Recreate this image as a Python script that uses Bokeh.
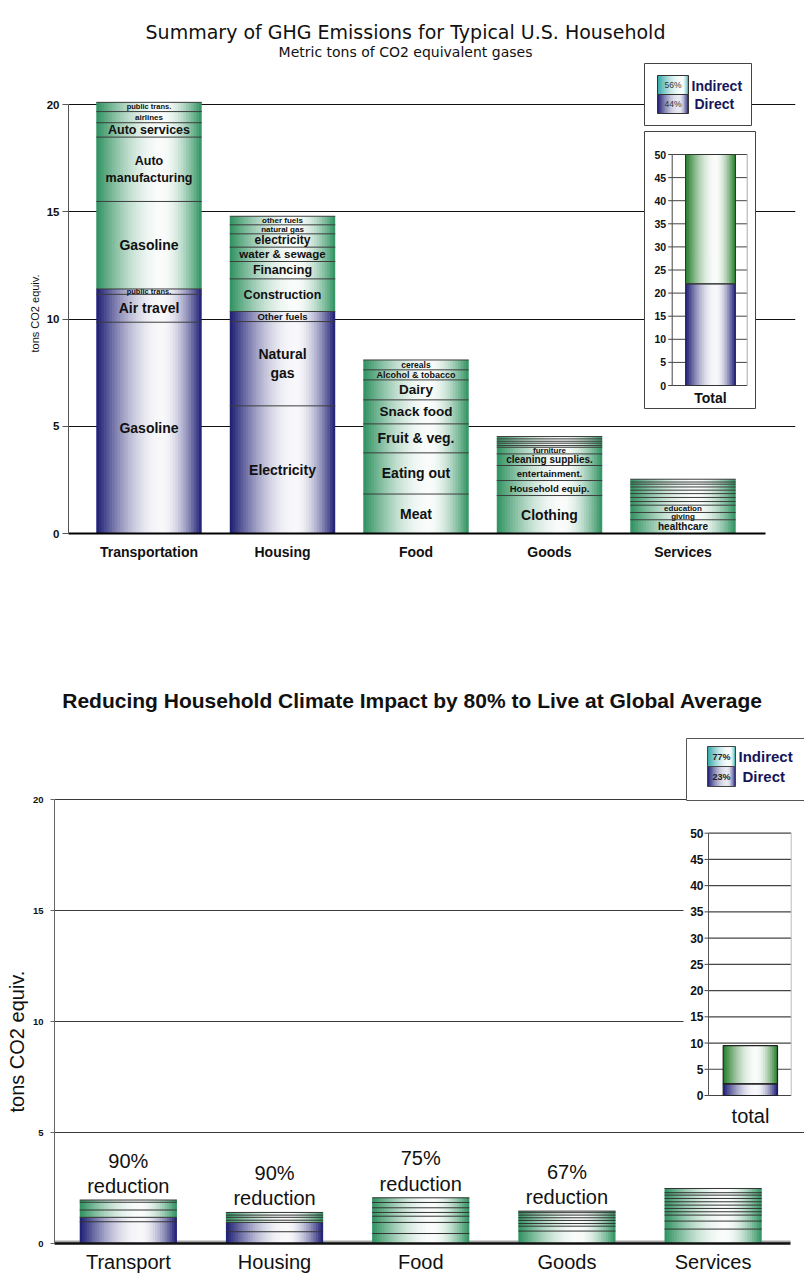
import numpy as np
from bokeh.plotting import figure
from bokeh.models import Range1d, FixedTicker, ColumnDataSource, Title
from bokeh.layouts import column
from bokeh.embed import file_html
from bokeh.resources import INLINE
from bokeh.core.properties import value

# ===================== DATA =====================
TOP_TITLE = "Summary of GHG Emissions for Typical U.S. Household"
TOP_SUBTITLE = "Metric tons of CO2 equivalent gases"
BOTTOM_TITLE = "Reducing Household Climate Impact by 80% to Live at Global Average"
Y_LABEL = "tons CO2 equiv."

CATEGORIES_TOP = ["Transportation", "Housing", "Food", "Goods", "Services"]
CATEGORIES_BOTTOM = ["Transport", "Housing", "Food", "Goods", "Services"]
MAIN_TICKS = [0, 5, 10, 15, 20]
INSET_TICKS = [0, 5, 10, 15, 20, 25, 30, 35, 40, 45, 50]

# top chart: stacked segments, bottom -> top (D = direct, I = indirect)
TRANSPORT_LABELS = ["Gasoline", "Air travel", "public trans.", "Gasoline",
                    "Auto\nmanufacturing", "Auto services", "airlines", "public trans."]
TRANSPORT_VALUES = [9.85, 1.30, 0.25, 4.08, 3.00, 0.67, 0.52, 0.43]
TRANSPORT_KINDS = ["D", "D", "D", "I", "I", "I", "I", "I"]

HOUSING_LABELS = ["Electricity", "Natural\ngas", "Other fuels", "Construction",
                  "Financing", "water & sewage", "electricity", "natural gas", "other fuels"]
HOUSING_VALUES = [5.95, 3.93, 0.47, 1.52, 0.81, 0.67, 0.62, 0.42, 0.40]
HOUSING_KINDS = ["D", "D", "D", "I", "I", "I", "I", "I", "I"]

FOOD_LABELS = ["Meat", "Eating out", "Fruit & veg.", "Snack food", "Dairy",
               "Alcohol & tobacco", "cereals"]
FOOD_VALUES = [1.84, 1.92, 1.35, 1.12, 0.93, 0.47, 0.46]
FOOD_KINDS = ["I"] * 7

GOODS_LABELS = ["Clothing", "Household equip.", "entertainment.", "cleaning supplies.",
                "furniture", "", "", "", "", ""]
GOODS_VALUES = [1.77, 0.70, 0.70, 0.54, 0.31, 0.08, 0.11, 0.09, 0.11, 0.11]
GOODS_KINDS = ["I"] * 10

SERVICES_LABELS = ["healthcare", "giving", "education", "", "", "", "", "", "", "", ""]
SERVICES_VALUES = [0.64, 0.34, 0.34, 0.17, 0.19, 0.18, 0.16, 0.15, 0.13, 0.10, 0.13]
SERVICES_KINDS = ["I"] * 11

TOTAL_TOP_VALUES = [22.0, 28.0]          # direct, indirect
LEGEND_NAMES = ["Indirect", "Direct"]
LEGEND_TOP_PCT = ["56%", "44%"]

# bottom chart (reduced household), bottom -> top
RED_TRANSPORT_VALUES = [0.98, 0.20, 0.33, 0.35, 0.10]
RED_TRANSPORT_KINDS = ["D", "D", "I", "I", "I"]
RED_HOUSING_VALUES = [0.53, 0.42, 0.10, 0.13, 0.10, 0.12]
RED_HOUSING_KINDS = ["D", "D", "I", "I", "I", "I"]
RED_FOOD_VALUES = [0.45, 0.50, 0.28, 0.17, 0.21, 0.24, 0.21]
RED_FOOD_KINDS = ["I"] * 7
RED_GOODS_VALUES = [0.56, 0.22, 0.12, 0.14, 0.12, 0.12, 0.11, 0.07]
RED_GOODS_KINDS = ["I"] * 8
RED_SERVICES_VALUES = [0.65, 0.36, 0.27, 0.15, 0.15, 0.15, 0.15, 0.15, 0.15, 0.11, 0.19]
RED_SERVICES_KINDS = ["I"] * 11
REDUCTION_PCT = ["90%", "90%", "75%", "67%", ""]

TOTAL_BOTTOM_VALUES = [2.2, 7.3]        # direct, indirect
LEGEND_BOTTOM_PCT = ["77%", "23%"]

# ===================== STYLE =====================
FONT = "Liberation Sans"
NAVY = (28, 28, 115)
GREEN = (46, 145, 95)
DARK_GREEN = (34, 122, 40)
TEAL = (48, 165, 165)
LEGEND_TEXT = "#15155a"

LABEL_SIZE = {
    "Gasoline": 14, "Air travel": 14, "public trans.": 7.5, "Auto\nmanufacturing": 12.5,
    "Auto services": 12.5, "airlines": 8, "Electricity": 14, "Natural\ngas": 14,
    "Other fuels": 9.5, "Construction": 12.5, "Financing": 12.5, "water & sewage": 11.5,
    "electricity": 12, "natural gas": 8, "other fuels": 8, "Meat": 14, "Eating out": 14,
    "Fruit & veg.": 14, "Snack food": 13.5, "Dairy": 13.5, "Alcohol & tobacco": 9,
    "cereals": 8.5, "Clothing": 14, "Household equip.": 9.5, "entertainment.": 9.5,
    "cleaning supplies.": 10, "furniture": 8, "healthcare": 10, "giving": 8,
    "education": 8, "": 8,
}

# ===================== LAYOUT HELPERS =====================
W = 804
TOP_H, BOT_H = 620, 658

T_FL, T_FR, T_FB = 68, 795, 533
T_PXY = (533 - 104) / 20.0
T_PXX = 133.5
T_X0 = 0.397
T_BAR_W = 0.79


def tx(px):
    return T_X0 + (px - T_FL) / T_PXX


def ty(py):
    return (T_FB - py) / T_PXY


TI_Y0, TI_Y50 = 385.0, 154.0
TI_PXY = (TI_Y0 - TI_Y50) / 50.0

B_OFF = 620
B_FL, B_FB = 54, 623
B_PXY = (B_FB + B_OFF - 799.3) / 20.0
B_PXX = 146.2
B_X0 = 0.495
B_BAR_W = 0.665


def bx(px):
    return B_X0 + (px - B_FL) / B_PXX


def by(gpy):
    return (B_FB + B_OFF - gpy) / B_PXY


BI_Y0, BI_Y50 = 1095.0, 832.7
BI_PXY = (BI_Y0 - BI_Y50) / 50.0


def hexmix(edge, w):
    return "#%02x%02x%02x" % tuple(int(round(c + (255 - c) * w)) for c in edge)


def new_store():
    return dict(left=[], right=[], bottom=[], top=[], color=[])


def add_gradient(store, xl, xr, y0, y1, edge, n=40, peak=0.62, wmax=0.97):
    dw = (xr - xl) / n
    for i in range(n):
        u = (i + 0.5) / n
        if u < peak:
            s = np.sin(np.pi / 2 * u / peak)
        else:
            s = np.sin(np.pi / 2 * (1 - u) / (1 - peak))
        store["left"].append(xl + i * dw)
        store["right"].append(min(xl + (i + 1.7) * dw, xr))
        store["bottom"].append(y0)
        store["top"].append(y1)
        store["color"].append(hexmix(edge, wmax * s))


def draw_store(p, store, y_range_name="default"):
    p.quad(source=ColumnDataSource(store), left="left", right="right", bottom="bottom",
           top="top", fill_color="color", line_color=None, y_range_name=y_range_name)


def stacked(p, centers, width, stacks, colors, line_color="#3c3c3c", labels=None):
    store = new_store()
    seg = dict(x0=[], x1=[], y=[])
    lab = dict(x=[], y=[], text=[], size=[])
    tops = []
    for k, (xc, (vals, kinds)) in enumerate(zip(centers, stacks)):
        cum = np.concatenate([[0.0], np.cumsum(vals)])
        tops.append(cum[-1])
        xl, xr = xc - width / 2, xc + width / 2
        for kind in ("D", "I"):
            idx = [i for i, kk in enumerate(kinds) if kk == kind]
            if idx:
                add_gradient(store, xl, xr, cum[idx[0]], cum[idx[-1] + 1], colors[kind])
        for yv in cum[1:]:
            seg["x0"].append(xl)
            seg["x1"].append(xr)
            seg["y"].append(yv)
        if labels is not None:
            for i, t in enumerate(labels[k]):
                lab["x"].append(xc)
                lab["y"].append((cum[i] + cum[i + 1]) / 2)
                lab["text"].append(t)
                lab["size"].append("%gpx" % LABEL_SIZE.get(t, 8))
    draw_store(p, store)
    p.segment(x0="x0", x1="x1", y0="y", y1="y", source=ColumnDataSource(seg),
              line_color=line_color, line_width=1)
    if labels is not None:
        p.text(x="x", y="y", text="text", source=ColumnDataSource(lab),
               text_font=value(FONT), text_font_style="bold", text_font_size="size",
               text_align="center", text_baseline="middle", text_color="#111111")
    return tops


def style_fig(p):
    p.outline_line_color = None
    p.background_fill_color = "white"
    p.border_fill_color = "white"
    p.xgrid.visible = False
    try:
        p.frame_align = False
    except Exception:
        pass


def side_title(p, text, size, frame_bottom, text_start, standoff):
    # vertical axis title on the left; the text starts (bottom end) at text_start
    t = Title(text=text, align="left", offset=frame_bottom - text_start, standoff=standoff,
              text_font=FONT, text_font_style="normal", text_font_size=size,
              text_color="#111111")
    p.add_layout(t, "left")


# ===================== TOP FIGURE =====================
top = figure(width=W, height=TOP_H, x_range=Range1d(tx(T_FL), tx(T_FR)),
             y_range=Range1d(0, ty(0)), output_backend="svg", toolbar_location=None,
             title=None, min_border_left=T_FL, min_border_right=W - T_FR,
             min_border_top=0, min_border_bottom=TOP_H - T_FB)
style_fig(top)
top.extra_y_ranges = {"inset": Range1d(-(T_FB - TI_Y0) / TI_PXY, TI_Y0 / TI_PXY)}

top.ygrid.ticker = FixedTicker(ticks=MAIN_TICKS[1:])
top.ygrid.grid_line_color = "#111111"
top.ygrid.grid_line_width = 1

ya = top.yaxis[0]
ya.ticker = FixedTicker(ticks=MAIN_TICKS)
ya.bounds = (MAIN_TICKS[0], MAIN_TICKS[-1])
ya.axis_line_color = "#555555"
ya.major_tick_line_color = "#555555"
ya.major_tick_out = 6
ya.major_tick_in = 0
ya.minor_tick_line_color = None
ya.major_label_standoff = 3
ya.major_label_text_font = FONT
ya.major_label_text_font_style = "bold"
ya.major_label_text_font_size = "11.5px"
ya.major_label_text_color = "#111111"
side_title(top, Y_LABEL, "11px", T_FB, 352, 6)

xa = top.xaxis[0]
centers_top = [i + 1 for i in range(len(CATEGORIES_TOP))]
xa.ticker = FixedTicker(ticks=centers_top)
xa.major_label_overrides = {c: n for c, n in zip(centers_top, CATEGORIES_TOP)}
xa.bounds = (tx(T_FL), tx(765))
xa.axis_line_color = "#000000"
xa.axis_line_width = 2
xa.major_tick_line_color = None
xa.minor_tick_line_color = None
xa.major_label_standoff = 4
xa.major_label_text_font = FONT
xa.major_label_text_font_style = "bold"
xa.major_label_text_font_size = "14px"
xa.major_label_text_color = "#111111"

stacks_top = [(TRANSPORT_VALUES, TRANSPORT_KINDS), (HOUSING_VALUES, HOUSING_KINDS),
              (FOOD_VALUES, FOOD_KINDS), (GOODS_VALUES, GOODS_KINDS),
              (SERVICES_VALUES, SERVICES_KINDS)]
labels_top = [TRANSPORT_LABELS, HOUSING_LABELS, FOOD_LABELS, GOODS_LABELS, SERVICES_LABELS]
stacked(top, centers_top, T_BAR_W, stacks_top, {"D": NAVY, "I": GREEN}, labels=labels_top)

# legend box (top)
top.quad(left=[tx(644)], right=[tx(751)], bottom=[ty(125)], top=[ty(63)],
         fill_color="white", line_color="#444444", line_width=1)
sw = new_store()
add_gradient(sw, tx(657), tx(688), ty(94), ty(75), TEAL, n=20, peak=0.8)
add_gradient(sw, tx(657), tx(688), ty(113), ty(94), NAVY, n=20, peak=0.7, wmax=0.9)
draw_store(top, sw)
top.quad(left=[tx(657)] * 2, right=[tx(688)] * 2, bottom=[ty(94), ty(113)], top=[ty(75), ty(94)],
         fill_color=None, line_color="#333333", line_width=1)
top.text(x=[tx(672.5)] * 2, y=[ty(84.5), ty(103.5)], text=LEGEND_TOP_PCT,
         text_font=value(FONT), text_font_size=value("8.5px"), text_align="center",
         text_baseline="middle", text_color="#333333")
top.text(x=[tx(691), tx(694)], y=[ty(85), ty(103)], text=LEGEND_NAMES,
         text_font=value(FONT), text_font_style="bold", text_font_size=value("14px"),
         text_align="left", text_baseline="middle", text_color=LEGEND_TEXT)

# inset (top)
top.quad(left=[tx(644)], right=[tx(755)], bottom=[ty(408)], top=[ty(131)],
         fill_color="white", line_color="#444444", line_width=1)
ti_axis, ti_right = 671.7, 746.7
top.segment(x0=[tx(ti_axis)] * len(INSET_TICKS), x1=[tx(ti_right)] * len(INSET_TICKS),
            y0=INSET_TICKS, y1=INSET_TICKS, line_color="#444444", line_width=1,
            y_range_name="inset")
top.segment(x0=[tx(ti_axis - 4)] * len(INSET_TICKS), x1=[tx(ti_axis)] * len(INSET_TICKS),
            y0=INSET_TICKS, y1=INSET_TICKS, line_color="#444444", line_width=1,
            y_range_name="inset")
top.segment(x0=[tx(ti_right)], x1=[tx(ti_right)], y0=[INSET_TICKS[0]], y1=[INSET_TICKS[-1]],
            line_color="#aaaaaa", line_width=1, y_range_name="inset")
top.segment(x0=[tx(ti_axis)], x1=[tx(ti_axis)], y0=[INSET_TICKS[0]], y1=[INSET_TICKS[-1]],
            line_color="#444444", line_width=1, y_range_name="inset")
top.text(x=[tx(ti_axis - 6)] * len(INSET_TICKS), y=INSET_TICKS, text=[str(t) for t in INSET_TICKS],
         text_font=value(FONT), text_font_style="bold", text_font_size=value("10.5px"),
         text_align="right", text_baseline="middle", text_color="#111111", y_range_name="inset")
ti = new_store()
ti_cum = np.concatenate([[0.0], np.cumsum(TOTAL_TOP_VALUES)])
add_gradient(ti, tx(685), tx(735), ti_cum[0], ti_cum[1], NAVY, n=30, peak=0.6)
add_gradient(ti, tx(685), tx(735), ti_cum[1], ti_cum[2], DARK_GREEN, n=30, peak=0.6)
draw_store(top, ti, "inset")
top.quad(left=[tx(685)] * 2, right=[tx(735)] * 2, bottom=list(ti_cum[:2]), top=list(ti_cum[1:]),
         fill_color=None, line_color="#333333", line_width=1, y_range_name="inset")
top.text(x=[tx(710)], y=[ty(397)], text=["Total"], text_font=value(FONT),
         text_font_style="bold", text_font_size=value("14px"), text_align="center",
         text_baseline="middle", text_color="#111111")

# titles (top)
top.text(x=[tx(405)], y=[ty(31)], text=[TOP_TITLE], text_font=value("DejaVu Sans"),
         text_font_size=value("19px"), text_align="center", text_baseline="middle",
         text_color="#111111")
top.text(x=[tx(405)], y=[ty(51)], text=[TOP_SUBTITLE], text_font=value("DejaVu Sans"),
         text_font_size=value("14px"), text_align="center", text_baseline="middle",
         text_color="#111111")

# ===================== BOTTOM FIGURE =====================
bot = figure(width=W, height=BOT_H, x_range=Range1d(bx(B_FL), bx(W)),
             y_range=Range1d(0, by(B_OFF)), output_backend="svg", toolbar_location=None,
             title=None, min_border_left=B_FL, min_border_right=0,
             min_border_top=0, min_border_bottom=BOT_H - B_FB)
style_fig(bot)
bot.extra_y_ranges = {"inset": Range1d(-(B_FB + B_OFF - BI_Y0) / BI_PXY,
                                       (BI_Y0 - B_OFF) / BI_PXY)}

bot.ygrid.ticker = FixedTicker(ticks=MAIN_TICKS[1:])
bot.ygrid.grid_line_color = "#3a3a3a"
bot.ygrid.grid_line_width = 1.2

yb = bot.yaxis[0]
yb.ticker = FixedTicker(ticks=MAIN_TICKS)
yb.bounds = (MAIN_TICKS[0], MAIN_TICKS[-1])
yb.axis_line_color = "#666666"
yb.major_tick_line_color = "#666666"
yb.major_tick_out = 4
yb.major_tick_in = 0
yb.minor_tick_line_color = None
yb.major_label_standoff = 7
yb.major_label_text_font = FONT
yb.major_label_text_font_style = "bold"
yb.major_label_text_font_size = "9.5px"
yb.major_label_text_color = "#111111"
side_title(bot, Y_LABEL, "20px", B_FB, 1112 - B_OFF, 3)

xb = bot.xaxis[0]
centers_bot = [i + 1 for i in range(len(CATEGORIES_BOTTOM))]
xb.ticker = FixedTicker(ticks=centers_bot)
xb.major_label_overrides = {c: n for c, n in zip(centers_bot, CATEGORIES_BOTTOM)}
xb.bounds = (bx(B_FL), bx(790))
xb.axis_line_color = "#111111"
xb.axis_line_width = 2.5
xb.major_tick_line_color = None
xb.minor_tick_line_color = None
xb.major_label_standoff = 1
xb.major_label_text_font = FONT
xb.major_label_text_font_size = "20px"
xb.major_label_text_color = "#111111"

# floor strip and gridline cover near inset
bot.quad(left=[bx(B_FL)], right=[bx(790)], bottom=[0], top=[3 / B_PXY],
         fill_color="#a8a8a8", line_color=None)
bot.quad(left=[bx(683)], right=[bx(806)], bottom=[5.4], top=[19.9],
         fill_color="white", line_color=None)

stacks_bot = [(RED_TRANSPORT_VALUES, RED_TRANSPORT_KINDS), (RED_HOUSING_VALUES, RED_HOUSING_KINDS),
              (RED_FOOD_VALUES, RED_FOOD_KINDS), (RED_GOODS_VALUES, RED_GOODS_KINDS),
              (RED_SERVICES_VALUES, RED_SERVICES_KINDS)]
tops_bot = stacked(bot, centers_bot, B_BAR_W, stacks_bot, {"D": NAVY, "I": GREEN},
                   line_color="#333333")

bot.text(x=centers_bot, y=tops_bot, text=[(t + "\nreduction") if t else "" for t in REDUCTION_PCT],
         text_font=value(FONT), text_font_size=value("20px"), text_align="center",
         text_baseline="bottom", y_offset=-3, text_line_height=1.15, text_color="#111111")

# legend (bottom)
bot.quad(left=[bx(686)], right=[bx(807)], bottom=[by(800)], top=[by(738)],
         fill_color="white", line_color="#555555", line_width=1)
sw2 = new_store()
add_gradient(sw2, bx(707), bx(735), by(766), by(746), TEAL, n=20, peak=0.8)
add_gradient(sw2, bx(707), bx(735), by(786), by(766), NAVY, n=20, peak=0.7, wmax=0.9)
draw_store(bot, sw2)
bot.quad(left=[bx(707)] * 2, right=[bx(735)] * 2, bottom=[by(766), by(786)], top=[by(746), by(766)],
         fill_color=None, line_color="#444444", line_width=1)
bot.text(x=[bx(721)] * 2, y=[by(756), by(776)], text=LEGEND_BOTTOM_PCT,
         text_font=value(FONT), text_font_style="bold", text_font_size=value("9px"),
         text_align="center", text_baseline="middle", text_color="#222222")
bot.text(x=[bx(738), bx(742)], y=[by(756), by(776)], text=LEGEND_NAMES,
         text_font=value(FONT), text_font_style="bold", text_font_size=value("15px"),
         text_align="left", text_baseline="middle", text_color=LEGEND_TEXT)

# inset (bottom)
bi_axis, bi_right = 708.0, 790.7
bot.segment(x0=[bx(bi_axis)] * len(INSET_TICKS), x1=[bx(bi_right)] * len(INSET_TICKS),
            y0=INSET_TICKS, y1=INSET_TICKS, line_color="#444444", line_width=1.2,
            y_range_name="inset")
bot.segment(x0=[bx(bi_axis - 4)] * len(INSET_TICKS), x1=[bx(bi_axis)] * len(INSET_TICKS),
            y0=INSET_TICKS, y1=INSET_TICKS, line_color="#444444", line_width=1,
            y_range_name="inset")
bot.segment(x0=[bx(bi_right)], x1=[bx(bi_right)], y0=[INSET_TICKS[0]], y1=[INSET_TICKS[-1]],
            line_color="#bbbbbb", line_width=1, y_range_name="inset")
bot.segment(x0=[bx(bi_axis)], x1=[bx(bi_axis)], y0=[INSET_TICKS[0]], y1=[INSET_TICKS[-1]],
            line_color="#555555", line_width=1, y_range_name="inset")
bot.text(x=[bx(bi_axis - 5)] * len(INSET_TICKS), y=INSET_TICKS, text=[str(t) for t in INSET_TICKS],
         text_font=value(FONT), text_font_style="bold", text_font_size=value("12px"),
         text_align="right", text_baseline="middle", text_color="#111111", y_range_name="inset")
bi = new_store()
bi_cum = np.concatenate([[0.0], np.cumsum(TOTAL_BOTTOM_VALUES)])
add_gradient(bi, bx(722.7), bx(777), bi_cum[0], bi_cum[1], NAVY, n=30, peak=0.6)
add_gradient(bi, bx(722.7), bx(777), bi_cum[1], bi_cum[2], DARK_GREEN, n=30, peak=0.6)
draw_store(bot, bi, "inset")
bot.quad(left=[bx(722.7)] * 2, right=[bx(777)] * 2, bottom=list(bi_cum[:2]), top=list(bi_cum[1:]),
         fill_color=None, line_color="#222222", line_width=1.2, y_range_name="inset")
bot.text(x=[bx(750)], y=[by(1115)], text=["total"], text_font=value(FONT),
         text_font_size=value("20px"), text_align="center", text_baseline="middle",
         text_color="#111111")

# title (bottom)
bot.text(x=[bx(412)], y=[by(700)], text=[BOTTOM_TITLE], text_font=value(FONT),
         text_font_style="bold", text_font_size=value("21px"), text_align="center",
         text_baseline="middle", text_color="#111111")

layout = column(top, bot, spacing=0)
open("out.html", "w").write(file_html(layout, INLINE))
